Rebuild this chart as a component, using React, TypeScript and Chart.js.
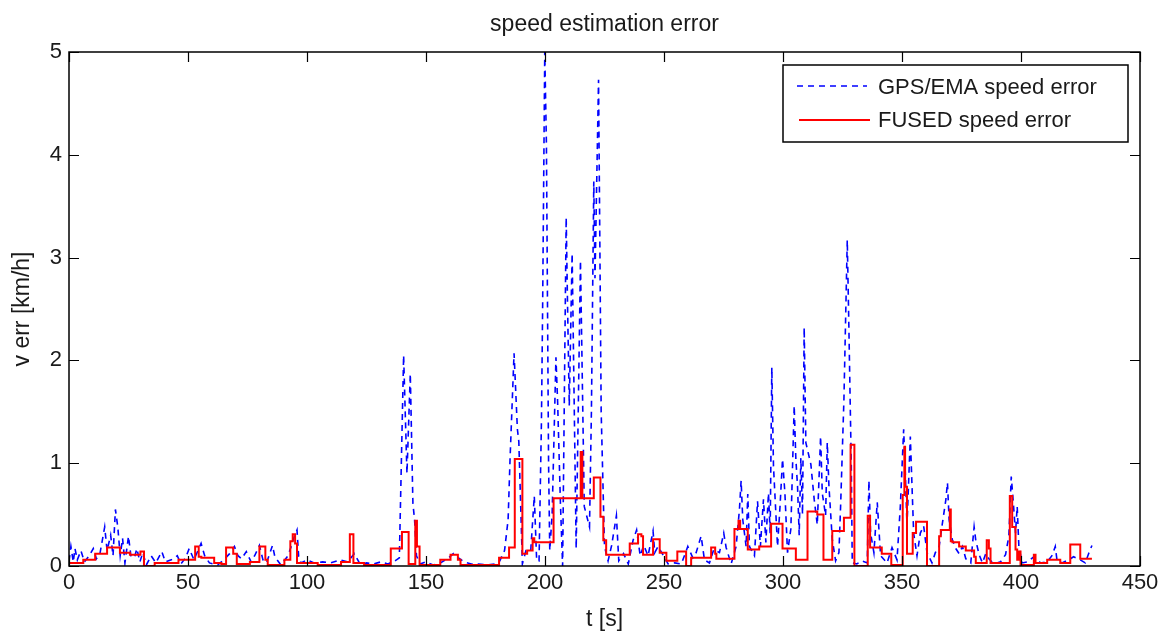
import React, { useEffect, useRef } from "react";
import { Chart, registerables } from "chart.js";

Chart.register(...registerables);

const chartTitle = "speed estimation error";
const xAxisLabel = "t [s]";
const yAxisLabel = "v err [km/h]";
const gpsLabel = "GPS/EMA speed error";
const fusedLabel = "FUSED speed error";

const xTicks = [0, 50, 100, 150, 200, 250, 300, 350, 400, 450];
const yTicks = [0, 1, 2, 3, 4, 5];

const gpsT = [
  0, 0.8, 1.8, 2.5, 3.5, 5, 6.5, 8.5, 10.2, 11.5, 13, 15, 16, 17.5, 18.5, 19.5, 20.5, 21.5, 22.5, 23.5,
  25, 26, 27.5, 28.5, 29.8, 31, 32.5, 34.5, 36.5, 39, 40.5, 43, 45.5, 47, 49, 50.5, 52.5, 55.5, 57, 59,
  62.5, 65, 67.5, 69.5, 71, 72.5, 74.5, 76.5, 78, 80, 81.5, 83, 85.5, 86.5, 89, 92, 93.5, 94.7, 95.8, 96.5,
  97.5, 100, 103, 106.5, 110, 114, 117, 119.9, 122.5, 125, 128, 131, 134, 137, 138.8, 140.6, 142, 143.4, 144.5, 145.2,
  146, 147.5, 150, 153, 156, 159, 161.5, 163.5, 166, 169, 172, 176, 179, 181, 183, 184.5, 185.3, 187, 188.4, 189,
  190.5, 192, 194, 195.5, 196.5, 197.5, 198.5, 199, 199.9, 200.6, 201.5, 202, 203, 204.6, 205.3, 206.5, 207.4, 208.9, 209.5, 210.2,
  211.4, 213.1, 214.5, 214.9, 216.5, 218.7, 219.5, 220.5, 221, 222.5, 223.6, 225, 226.5, 228, 230, 231, 233, 235, 237, 238.5,
  240, 241.5, 243.3, 245.4, 246.1, 247.5, 250.3, 251.7, 254.5, 257.3, 260, 262.1, 263.5, 265.6, 267, 269.1, 270.9, 273.3, 275.1, 276.1,
  278.2, 280.3, 281.7, 282.4, 283.1, 284.5, 285.2, 285.9, 288, 289.3, 290.5, 291.8, 292.8, 293.9, 294.6, 295.3, 296, 297.7, 298.8, 299.8,
  300.8, 301.9, 303.3, 304.7, 305.4, 306.1, 306.8, 307.5, 308.2, 308.9, 309.6, 310.3, 311.7, 313.1, 314.4, 315.8, 316.5, 317.9, 318.6, 319.3,
  320.7, 322.1, 323.5, 324.2, 325.6, 327, 327.7, 328.7, 329.1, 331, 333, 335.4, 336.1, 336.8, 338.2, 339.6, 340.3, 341, 343.7, 345.8,
  347.9, 349.3, 350.7, 351.4, 352.1, 353.5, 354.2, 354.9, 356.3, 357.7, 359.1, 360.5, 362.6, 364, 365.6, 367, 368.4, 369.1, 369.8, 371.2,
  372.6, 374, 375.4, 376.8, 378.9, 380.3, 381, 382.4, 383.8, 385.2, 386.5, 388.6, 391.4, 393.5, 394.9, 395.9, 396.7, 397.7, 398.4, 399.1,
  400.5, 402.6, 405.4, 408.2, 411, 413, 414.4, 415.1, 417.2, 420, 422.1, 424.9, 427, 428.4, 429.8,
];
const gpsV = [
  0.05, 0.19, 0.04, 0.17, 0.06, 0.15, 0.04, 0.1, 0.17, 0.07, 0.12, 0.38, 0.15, 0.3, 0.1, 0.55, 0.38, 0.1, 0.27, 0.03,
  0.29, 0.1, 0.08, 0.17, 0.04, 0.13, 0.01, 0.1, 0.03, 0.14, 0.04, 0.06, 0.1, 0.02, 0.08, 0.17, 0.06, 0.22, 0.1, 0.03,
  0.01, 0.06, 0.12, 0.19, 0.1, 0.07, 0.14, 0.04, 0.1, 0.2, 0.06, 0.03, 0.2, 0.09, 0.01, 0.1, 0.2, 0.29, 0.35, 0.09,
  0.03, 0.06, 0.03, 0.04, 0.03, 0.06, 0.04, 0.12, 0.01, 0.03, 0.02, 0.04, 0.02, 0.05, 0.08, 2.05, 0.9, 1.87, 0.61, 0.45,
  0.1, 0.02, 0.04, 0.01, 0.03, 0.07, 0.12, 0.08, 0.04, 0.02, 0.02, 0.01, 0.02, 0.05, 0.15, 0.45, 1.03, 2.07, 1.33, 1.21,
  0.02, 0.15, 0.15, 0.68, 0.05, 0.05, 1.4, 2.5, 5.0, 4.1, 1.0, 0.15, 0.5, 2.03, 1.6, 0.6, 0.0, 3.39, 2.5, 1.56,
  3.04, 0.17, 2.33, 2.97, 0.58, 0.38, 1.5, 3.74, 2.8, 4.73, 1.5, 0.19, 0.05, 0.2, 0.49, 0.05, 0.12, 0.02, 0.25, 0.35,
  0.1, 0.2, 0.1, 0.34, 0.13, 0.19, 0.08, 0.02, 0.03, 0.02, 0.19, 0.08, 0.13, 0.29, 0.06, 0.03, 0.16, 0.13, 0.32, 0.18,
  0.02, 0.19, 0.55, 0.83, 0.45, 0.19, 0.7, 0.19, 0.1, 0.63, 0.19, 0.65, 0.23, 0.71, 0.32, 1.93, 0.97, 0.19, 0.6, 1.04,
  0.71, 0.13, 0.36, 1.56, 1.04, 0.78, 0.3, 1.05, 0.5, 2.32, 1.2, 1.13, 0.99, 0.65, 0.4, 1.26, 0.71, 0.49, 1.2, 0.78,
  0.26, 0.05, 0.13, 0.58, 1.62, 3.17, 2.3, 0.97, 0.03, 0.02, 0.05, 0.03, 0.83, 0.32, 0.13, 0.62, 0.36, 0.1, 0.03, 0.18,
  0.06, 0.58, 1.33, 0.9, 0.39, 1.26, 0.78, 0.32, 0.1, 0.32, 0.39, 0.13, 0.03, 0.13, 0.19, 0.42, 0.64, 0.81, 0.45, 0.25,
  0.17, 0.12, 0.19, 0.07, 0.03, 0.38, 0.25, 0.11, 0.03, 0.12, 0.07, 0.02, 0.04, 0.11, 0.29, 0.87, 0.64, 0.32, 0.58, 0.19,
  0.03, 0.04, 0.09, 0.03, 0.04, 0.1, 0.19, 0.06, 0.03, 0.06, 0.09, 0.06, 0.03, 0.12, 0.2,
];

const fusedT = [
  0, 6, 11, 16, 21.4, 25.6, 30, 31.5, 36, 46, 53, 54.5, 55.6, 61, 64, 66, 69, 70.5, 76, 80,
  82.5, 83.5, 90.5, 93, 94, 95, 95.8, 104.5, 114.3, 118, 119.5, 124, 135.2, 139.9, 142.7, 145.5, 146.2, 147.3, 156, 160.3,
  163.4, 164.5, 180.7, 184.9, 187.3, 190.5, 192.5, 194.8, 195.5, 203.6, 215, 215.7, 220.5, 223.3, 224.5, 225.7, 235.6, 239.1, 240.5, 241.2,
  245.4, 248.2, 251, 255.6, 259.3, 261.4, 269.8, 271.5, 272, 279.6, 281.3, 282, 285.2, 290, 295, 299.8, 305.4, 310.3, 314.4, 317,
  320.7, 325.6, 328.4, 330, 335.6, 336.6, 341.5, 345.5, 350.3, 351, 351.3, 352.1, 354.5, 355.9, 360.5, 365.6, 366.3, 370.1, 370.5, 371.2,
  374, 376.8, 380.3, 381, 385.6, 386.5, 387.2, 395.3, 396.3, 397.7, 398.4, 399.1, 399.8, 405.4, 406.1, 411, 416.5, 420.7, 424.9, 429.8,
];
const fusedV = [
  0.03, 0.06, 0.12, 0.18, 0.13, 0.11, 0.14, 0.0, 0.03, 0.06, 0.19, 0.09, 0.08, 0.03, 0.02, 0.18, 0.12, 0.02, 0.04, 0.19,
  0.06, 0.01, 0.06, 0.24, 0.31, 0.22, 0.03, 0.01, 0.04, 0.31, 0.03, 0.01, 0.17, 0.33, 0.02, 0.44, 0.19, 0.01, 0.06, 0.11,
  0.06, 0.01, 0.08, 0.18, 1.04, 0.12, 0.15, 0.27, 0.23, 0.66, 1.11, 0.66, 0.86, 0.48, 0.25, 0.11, 0.22, 0.31, 0.29, 0.11,
  0.26, 0.13, 0.05, 0.14, 0.0, 0.08, 0.18, 0.12, 0.07, 0.36, 0.44, 0.36, 0.16, 0.19, 0.41, 0.17, 0.06, 0.53, 0.5, 0.06,
  0.34, 0.47, 1.18, 0.0, 0.49, 0.18, 0.12, 0.01, 0.69, 1.16, 0.77, 0.12, 0.32, 0.43, 0.0, 0.29, 0.35, 0.55, 0.24, 0.23,
  0.19, 0.15, 0.09, 0.03, 0.25, 0.17, 0.03, 0.68, 0.38, 0.16, 0.06, 0.14, 0.01, 0.11, 0.03, 0.06, 0.03, 0.21, 0.07, 0.07,
];

const FONT = "'Liberation Sans', Arial, Helvetica, sans-serif";
const TEXT = "#1a1a1a";
const BLUE = "#0000ff";
const RED = "#ff0000";

const frame = {
  id: "matlabFrame",
  afterDatasetsDraw(chart: any) {
    const { ctx, chartArea } = chart;
    const { left, right, top, bottom } = chartArea;
    const xs = chart.scales.x;
    const ys = chart.scales.y;
    ctx.save();
    ctx.strokeStyle = "#000";
    ctx.lineWidth = 1.5;
    ctx.strokeRect(left, top, right - left, bottom - top);
    ctx.lineWidth = 1.2;
    const tl = 10;
    ctx.beginPath();
    xTicks.forEach((t) => {
      const px = Math.round(xs.getPixelForValue(t)) + 0.5;
      ctx.moveTo(px, bottom);
      ctx.lineTo(px, bottom - tl);
      ctx.moveTo(px, top);
      ctx.lineTo(px, top + tl);
    });
    yTicks.forEach((v) => {
      const py = Math.round(ys.getPixelForValue(v)) + 0.5;
      ctx.moveTo(left, py);
      ctx.lineTo(left + tl, py);
      ctx.moveTo(right, py);
      ctx.lineTo(right - tl, py);
    });
    ctx.stroke();

    // title
    ctx.fillStyle = TEXT;
    ctx.font = `23px ${FONT}`;
    ctx.textAlign = "center";
    ctx.textBaseline = "middle";
    ctx.fillText(chartTitle, (left + right) / 2, 25);

    // legend
    const bx = right - 357;
    const by = top + 13;
    const bw = 345;
    const bh = 77;
    ctx.fillStyle = "#fff";
    ctx.fillRect(bx, by, bw, bh);
    ctx.strokeStyle = "#000";
    ctx.lineWidth = 1.5;
    ctx.strokeRect(bx, by, bw, bh);
    ctx.lineWidth = 1.6;
    ctx.strokeStyle = BLUE;
    ctx.setLineDash([6, 5]);
    ctx.beginPath();
    ctx.moveTo(bx + 14, by + 21);
    ctx.lineTo(bx + 84, by + 21);
    ctx.stroke();
    ctx.setLineDash([]);
    ctx.strokeStyle = RED;
    ctx.lineWidth = 2;
    ctx.beginPath();
    ctx.moveTo(bx + 16, by + 55);
    ctx.lineTo(bx + 87, by + 55);
    ctx.stroke();
    ctx.fillStyle = TEXT;
    ctx.font = `22px ${FONT}`;
    ctx.textAlign = "left";
    ctx.textBaseline = "middle";
    ctx.fillText(gpsLabel, bx + 95, by + 23);
    ctx.fillText(fusedLabel, bx + 95, by + 56);
    ctx.restore();
  },
};

export default function App() {
  const ref = useRef<HTMLCanvasElement | null>(null);
  useEffect(() => {
    if (!ref.current) return;
    const gpsData = gpsT.map((t, i) => ({ x: t, y: gpsV[i] }));
    const fusedData = fusedT.map((t, i) => ({ x: t, y: fusedV[i] }));
    const chart = new Chart(ref.current, {
      type: "line",
      data: {
        datasets: [
          {
            label: fusedLabel,
            data: fusedData,
            borderColor: RED,
            backgroundColor: RED,
            borderWidth: 2,
            pointRadius: 0,
            stepped: true,
            fill: false,
          },
          {
            label: gpsLabel,
            data: gpsData,
            borderColor: BLUE,
            backgroundColor: BLUE,
            borderWidth: 1.6,
            borderDash: [6, 5],
            pointRadius: 0,
            tension: 0,
            fill: false,
          },
        ],
      },
      plugins: [frame],
      options: {
        animation: false,
        responsive: false,
        events: [],
        layout: { padding: { top: 52, right: 23, left: 0, bottom: 0 } },
        plugins: {
          legend: { display: false },
          title: { display: false },
          tooltip: { enabled: false },
        },
        scales: {
          x: {
            type: "linear",
            min: 0,
            max: 450,
            afterBuildTicks: (s: any) => {
              s.ticks = xTicks.map((v) => ({ value: v }));
            },
            afterFit: (s: any) => {
              s.height = 65;
            },
            grid: { display: false, drawTicks: false },
            border: { display: false },
            ticks: {
              padding: 4,
              color: TEXT,
              font: { family: FONT, size: 22, lineHeight: 1.2 },
              maxRotation: 0,
              autoSkip: false,
            },
            title: {
              display: true,
              text: xAxisLabel,
              color: TEXT,
              font: { family: FONT, size: 23, lineHeight: 1 },
              padding: { top: 0, bottom: 0 },
            },
          },
          y: {
            type: "linear",
            min: 0,
            max: 5,
            afterBuildTicks: (s: any) => {
              s.ticks = yTicks.map((v) => ({ value: v }));
            },
            afterFit: (s: any) => {
              s.width = 69;
            },
            grid: { display: false, drawTicks: false },
            border: { display: false },
            ticks: {
              padding: 7,
              color: TEXT,
              font: { family: FONT, size: 22 },
              autoSkip: false,
            },
            title: {
              display: true,
              text: yAxisLabel,
              color: TEXT,
              font: { family: FONT, size: 23, lineHeight: 1 },
              padding: { top: 11, bottom: 0 },
            },
          },
        },
      },
    });
    return () => chart.destroy();
  }, []);
  return (
    <div style={{ position: "absolute", left: 0, top: 0, width: 1163, height: 631, background: "#fff" }}>
      <canvas ref={ref} width={1163} height={631} style={{ display: "block" }} />
    </div>
  );
}
